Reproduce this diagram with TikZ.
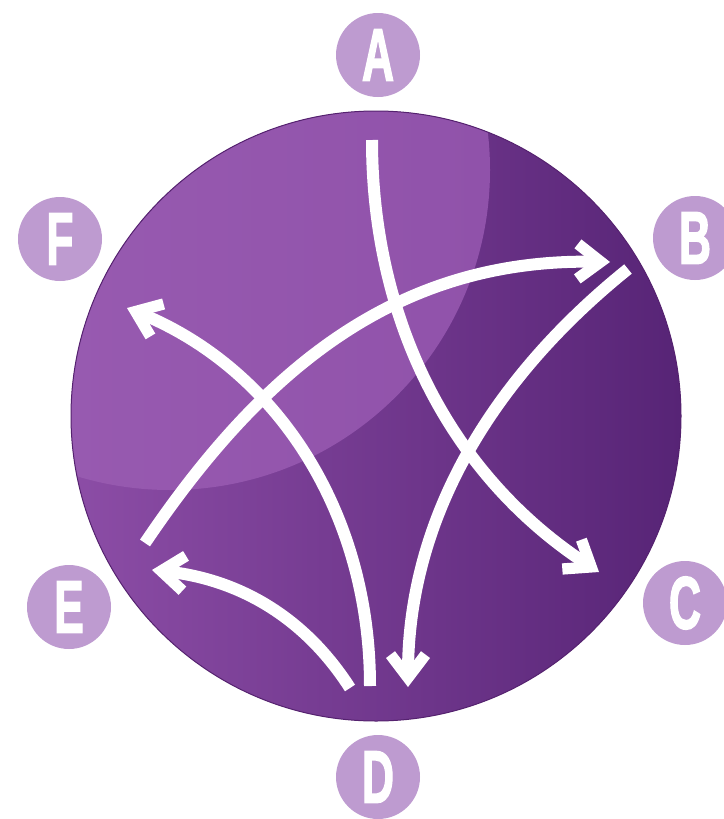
\documentclass[tikz,border=0pt]{standalone}
\usepackage{fontspec}
\setmainfont{Liberation Sans}
\newfontfamily\lfont{Liberation Sans}[BoldFeatures={FakeBold=2.5}]
\usetikzlibrary{arrows.meta}
\definecolor{lav}{HTML}{BE9BD0}
\definecolor{purL}{HTML}{8C4DA6}
\definecolor{purR}{HTML}{572476}
\definecolor{glossL}{HTML}{9B5EB3}
\definecolor{glossR}{HTML}{9052AA}
\definecolor{rim}{HTML}{55226F}
\pgfdeclarearrow{
  name = Chev,
  parameters = {},
  setup code = {
    \pgfarrowssettipend{0pt}
    \pgfarrowssetlineend{-14pt}
    \pgfarrowssetbackend{-36pt}
    \pgfarrowssetvisualbackend{-19pt}
    \pgfarrowshullpoint{0pt}{0pt}
    \pgfarrowshullpoint{-29pt}{22pt}
    \pgfarrowshullpoint{-36pt}{13pt}
    \pgfarrowshullpoint{-29pt}{-22pt}
    \pgfarrowshullpoint{-36pt}{-13pt}
  },
  drawing code = {
    \pgfpathmoveto{\pgfqpoint{0pt}{0pt}}
    \pgfpathlineto{\pgfqpoint{-29pt}{22pt}}
    \pgfpathlineto{\pgfqpoint{-35.8pt}{13pt}}
    \pgfpathlineto{\pgfqpoint{-18.6pt}{0pt}}
    \pgfpathlineto{\pgfqpoint{-35.8pt}{-13pt}}
    \pgfpathlineto{\pgfqpoint{-29pt}{-22pt}}
    \pgfpathclose
    \pgfusepathqfill
  }
}
\newcommand{\ltr}[1]{\scalebox{0.6}[1]{#1}}
\tikzset{
  letter/.style={circle, fill=lav, minimum size=84pt, inner sep=0pt, text=white,
    font=\lfont\fontsize{74}{74}\selectfont\bfseries},
  arr/.style={draw=white, line width=12pt, line cap=butt, -{Chev}}
}
\begin{document}
\begin{tikzpicture}[x=1pt,y=-1pt]
\useasboundingbox (0,0) rectangle (723,819);
% main disc
\coordinate (ctr) at (376,416);
\shade[left color=purL, right color=purR] (ctr) circle (305);
\begin{scope}
  \clip (ctr) circle (305);
  \shade[left color=glossL, right color=glossR] (170,170) circle (320);
\end{scope}
\draw[rim, line width=1pt] (ctr) circle (305);
% letter nodes
\node[letter] (A) at (378,55) {\ltr{A}};
\node[letter] (B) at (695,238) {\ltr{B}};
\node[letter] (C) at (685,603) {\ltr{C}};
\node[letter] (D) at (378,777) {\ltr{D}};
\node[letter] (E) at (69,607) {\ltr{E}};
\node[letter] (F) at (60,239) {\ltr{F}};
% arrow end points
\coordinate (a1s) at (372,140);  \coordinate (a1e) at (599,572);
\coordinate (a2s) at (628,269);  \coordinate (a2e) at (408,687);
\coordinate (a3s) at (145,543);  \coordinate (a3e) at (610,262);
\coordinate (a4s) at (370,686);  \coordinate (a4e) at (127,308);
\coordinate (a5s) at (350,688);  \coordinate (a5e) at (152,570);
% arrows
\draw[arr] (a1s) .. controls (372,320) and (450,475) .. (a1e);
\draw[arr] (a2s) .. controls (490,380) and (408,520) .. (a2e);
\draw[arr] (a3s) .. controls (265,365) and (400,258) .. (a3e);
\draw[arr] (a4s) .. controls (370,510) and (275,368) .. (a4e);
\draw[arr] (a5s) .. controls (300,610) and (230,578) .. (a5e);
\end{tikzpicture}
\end{document}
